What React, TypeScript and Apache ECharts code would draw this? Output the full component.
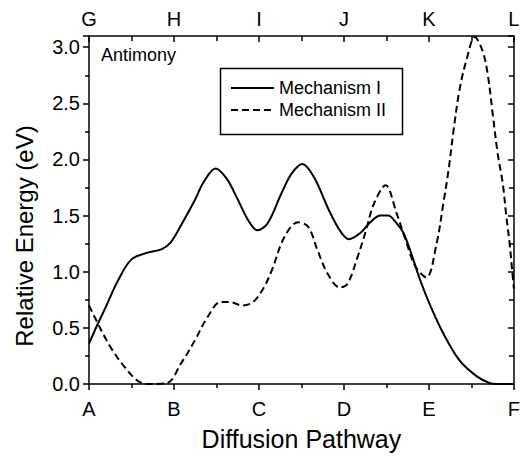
import React, { useEffect, useRef } from "react";
import * as echarts from "echarts";

const bottomLabels = ["A", "B", "C", "D", "E", "F"];
const topLabels = ["G", "H", "I", "J", "K", "L"];
const seriesNames = ["Mechanism I", "Mechanism II"];

const mechanismI: [number, number][] = [
  [0, 0.36], [0.1, 0.53], [0.2, 0.69], [0.34, 0.92], [0.5, 1.11], [0.69, 1.17],
  [0.85, 1.2], [0.96, 1.26], [1.08, 1.41], [1.24, 1.63], [1.35, 1.8], [1.49, 1.92],
  [1.62, 1.83], [1.74, 1.66], [1.88, 1.45], [1.98, 1.37], [2.1, 1.43], [2.26, 1.69],
  [2.38, 1.87], [2.51, 1.96], [2.65, 1.84], [2.81, 1.57], [2.95, 1.37], [3.06, 1.29],
  [3.2, 1.35], [3.31, 1.44], [3.43, 1.5], [3.52, 1.5], [3.6, 1.45], [3.71, 1.33],
  [3.9, 0.92], [4.01, 0.71], [4.17, 0.45], [4.36, 0.21], [4.56, 0.07], [4.71, 0.01],
  [4.8, 0], [5, 0],
];

const mechanismII: [number, number][] = [
  [0, 0.7], [0.15, 0.47], [0.26, 0.32], [0.42, 0.15], [0.57, 0.03], [0.69, 0],
  [0.92, 0.01], [1.08, 0.18], [1.24, 0.38], [1.39, 0.59], [1.55, 0.73], [1.66, 0.73],
  [1.8, 0.7], [1.93, 0.73], [2.05, 0.85], [2.15, 1.01], [2.3, 1.31], [2.46, 1.44],
  [2.58, 1.4], [2.69, 1.19], [2.81, 0.98], [2.95, 0.86], [3.04, 0.89], [3.16, 1.13],
  [3.26, 1.37], [3.35, 1.6], [3.49, 1.77], [3.62, 1.52], [3.71, 1.32], [3.84, 1.05],
  [3.97, 0.95], [4.09, 1.25], [4.17, 1.61], [4.23, 1.9], [4.29, 2.26], [4.36, 2.62],
  [4.44, 2.88], [4.54, 3.09], [4.63, 2.97], [4.69, 2.77], [4.75, 2.41], [4.81, 2.05],
  [4.87, 1.78], [4.91, 1.5], [4.95, 1.25], [4.98, 1.01], [5, 0.85],
];

const FONT = "'Liberation Sans', Arial, Helvetica, sans-serif";
const BLACK = "#000";

export default function App() {
  const ref = useRef<HTMLDivElement>(null);

  useEffect(() => {
    document.body.style.margin = "0";
    const chart = echarts.init(ref.current!, null, { renderer: "svg" });

    const lineW = 1.5;
    const baseX = {
      type: "value",
      min: 0,
      max: 5,
      interval: 1,
      splitLine: { show: false },
      axisLine: { show: true, onZero: false, lineStyle: { color: BLACK, width: lineW } },
    };
    const baseY = {
      type: "value",
      min: 0,
      max: 3.1,
      interval: 0.5,
      splitLine: { show: false },
      axisLine: { show: true, onZero: false, lineStyle: { color: BLACK, width: lineW } },
    };

    chart.setOption({
      animation: false,
      backgroundColor: "#fff",
      grid: { left: 89, right: 5, top: 36, bottom: 73, containLabel: false },
      xAxis: [
        {
          ...baseX,
          position: "bottom",
          axisTick: { show: true, inside: false, length: 6, lineStyle: { color: BLACK, width: lineW } },
          minorTick: { show: true, splitNumber: 2, length: 4, lineStyle: { color: BLACK, width: lineW } },
          axisLabel: {
            formatter: (v: number) => bottomLabels[Math.round(v)] ?? "",
            color: BLACK,
            fontSize: 20,
            fontFamily: FONT,
            margin: 15,
          },
          name: "Diffusion Pathway",
          nameLocation: "middle",
          nameGap: 42,
          nameTextStyle: { fontSize: 25, color: BLACK, fontFamily: FONT },
        },
        {
          ...baseX,
          position: "top",
          axisTick: { show: true, inside: true, length: 6, lineStyle: { color: BLACK, width: lineW } },
          minorTick: { show: true, splitNumber: 2, length: 5, lineStyle: { color: BLACK, width: lineW } },
          axisLabel: {
            formatter: (v: number) => topLabels[Math.round(v)] ?? "",
            color: BLACK,
            fontSize: 20,
            fontFamily: FONT,
            margin: 7,
          },
        },
      ],
      yAxis: [
        {
          ...baseY,
          position: "left",
          axisTick: { show: true, inside: false, length: 6, lineStyle: { color: BLACK, width: lineW } },
          minorTick: { show: true, splitNumber: 2, length: 4, lineStyle: { color: BLACK, width: lineW } },
          axisLabel: {
            formatter: (v: number) =>
              Math.abs(v / 0.5 - Math.round(v / 0.5)) < 1e-6 ? v.toFixed(1) : "",
            showMaxLabel: false,
            color: BLACK,
            fontSize: 20,
            fontFamily: FONT,
            margin: 9,
          },
          name: "Relative Energy (eV)",
          nameLocation: "middle",
          nameGap: 53,
          nameTextStyle: { fontSize: 24, color: BLACK, fontFamily: FONT, padding: [0, 52, 0, 0] },
        },
        {
          ...baseY,
          position: "right",
          axisTick: { show: true, inside: true, length: 6, lineStyle: { color: BLACK, width: lineW } },
          minorTick: { show: true, splitNumber: 2, length: 5, lineStyle: { color: BLACK, width: lineW } },
          axisLabel: { show: false },
        },
      ],
      legend: {
        data: seriesNames,
        orient: "vertical",
        left: 230,
        top: 79,
        padding: 0,
        itemWidth: 43,
        itemHeight: 14,
        itemGap: 4,
        selectedMode: false,
        itemStyle: { opacity: 0, borderWidth: 0 },
        textStyle: { fontSize: 18, lineHeight: 18, color: BLACK, fontFamily: FONT },
      },
      graphic: [
        {
          type: "rect",
          left: 218,
          top: 66,
          shape: { width: 182, height: 66 },
          style: { fill: "none", stroke: BLACK, lineWidth: 1.5 },
          z: 10,
        },
        {
          type: "text",
          left: 101,
          top: 46,
          style: { text: "Antimony", fontSize: 18, fontFamily: FONT, fill: BLACK },
          z: 10,
        },
      ],
      series: [
        {
          name: seriesNames[0],
          type: "line",
          data: mechanismI,
          smooth: 0.35,
          symbol: "none",
          showSymbol: false,
          clip: true,
          lineStyle: { color: BLACK, width: 2, type: "solid" },
          itemStyle: { color: BLACK },
        },
        {
          name: seriesNames[1],
          type: "line",
          data: mechanismII,
          smooth: 0.35,
          symbol: "none",
          showSymbol: false,
          clip: true,
          lineStyle: { color: BLACK, width: 2, type: [7, 4] },
          itemStyle: { color: BLACK },
        },
      ],
    });

    return () => chart.dispose();
  }, []);

  return <div ref={ref} style={{ width: 523, height: 457 }} />;
}
